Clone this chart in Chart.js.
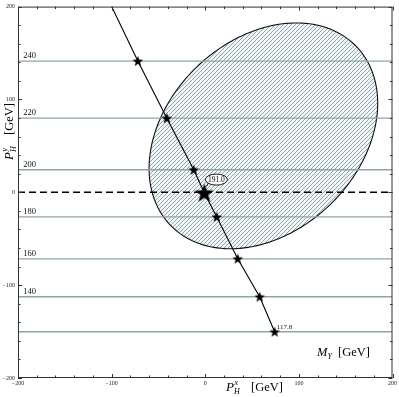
<!DOCTYPE html>
<html><head><meta charset="utf-8">
<script src="https://cdn.jsdelivr.net/npm/chart.js@4/dist/chart.umd.min.js"></script>
<style>html,body{margin:0;padding:0;background:#fff}#wrap{width:399px;height:397px}</style>
</head><body><div id="wrap"><canvas id="c" width="399" height="397"></canvas></div>
<script>
// ---- data ----
const axisTicks = [-200, -100, 0, 100, 200];
const minorTicks = [-180, -160, -140, -120, -80, -60, -40, -20, 20, 40, 60, 80, 120, 140, 160, 180];
const massLabels = ['240', '220', '200', '180', '160', '140'];
const massLineY = [141.3, 79.8, 24.3, -26.5, -71.6, -112.5, -150.2];
const trajX = [-100, -72, -41, -12.3, -1, 12.3, 34.7, 58.1, 74.1];
const trajY = [200, 141.3, 79.8, 24.3, -0.5, -26.5, -71.6, -112.5, -150.2];
const trajMass = [null, 240, 220, 200, 191.0, 180, 160, 140, 117.8];
const bigStarIndex = 4;
const ellipseCenter = [62.1, 60.8];
const ellipseAxes = [138.3, 102.8];
const ellipseAngleDeg = 44.6;
const bubbleText = '191.0';
const bubbleAt = [11.9, 13.7];
const endText = '117.8';
const endTextAt = [76.5, -150.2];
const massLabelX = -194.5;

const SERIF = '"Liberation Serif", "DejaVu Serif", serif';
const fmt = v => (v < 0 ? '\u2212' + Math.abs(v) : String(v));

function makeStar(R, r) {
  const s = Math.ceil(2 * R + 2);
  const c = document.createElement('canvas');
  c.width = c.height = s;
  const g = c.getContext('2d');
  g.translate(s / 2, s / 2 + R * 0.08);
  g.beginPath();
  for (let k = 0; k < 10; k++) {
    const rad = k % 2 ? r : R;
    const a = -Math.PI / 2 + k * Math.PI / 5;
    g.lineTo(rad * Math.cos(a), rad * Math.sin(a));
  }
  g.closePath();
  g.fillStyle = '#000';
  g.fill();
  return c;
}
const smallStar = makeStar(5.6, 2.3);
const bigStar = makeStar(10, 4.1);

const datasets = [];
massLineY.forEach(yv => datasets.push({
  data: [{x: -200, y: yv}, {x: 200, y: yv}],
  showLine: true, borderColor: '#8fa4a8', borderWidth: 1.3, pointRadius: 0, order: 3
}));
datasets.push({
  data: [{x: -200, y: 0}, {x: 200, y: 0}],
  showLine: true, borderColor: '#000', borderWidth: 1.5, borderDash: [7, 4], pointRadius: 0, order: 2
});
datasets.push({
  data: trajX.map((x, i) => ({x: x, y: trajY[i]})),
  showLine: true, borderColor: '#000', borderWidth: 1.1, order: 1,
  pointRadius: c => (trajMass[c.dataIndex] === null ? 0 : 5),
  pointStyle: c => (c.dataIndex === bigStarIndex ? bigStar : smallStar)
});

const regionPlugin = {
  id: 'region',
  beforeDatasetsDraw(chart) {
    const {ctx, scales: {x, y}, chartArea: a} = chart;
    const c = document.createElement('canvas');
    c.width = c.height = 4;
    const g = c.getContext('2d');
    g.fillStyle = '#f1f5f6'; g.fillRect(0, 0, 4, 4);
    g.strokeStyle = '#8ea3a7'; g.lineWidth = 0.95;
    g.beginPath();
    g.moveTo(-1, 5); g.lineTo(5, -1);
    g.moveTo(-1, 1); g.lineTo(1, -1);
    g.moveTo(3, 5); g.lineTo(5, 3);
    g.stroke();
    const pat = ctx.createPattern(c, 'repeat');
    const th = ellipseAngleDeg * Math.PI / 180;
    ctx.save();
    ctx.beginPath();
    ctx.rect(a.left, a.top, a.right - a.left, a.bottom - a.top);
    ctx.clip();
    ctx.beginPath();
    for (let k = 0; k <= 360; k++) {
      const t = k * Math.PI / 180;
      const u = ellipseAxes[0] * Math.cos(t), v = ellipseAxes[1] * Math.sin(t);
      const dx = ellipseCenter[0] + u * Math.cos(th) - v * Math.sin(th);
      const dy = ellipseCenter[1] + u * Math.sin(th) + v * Math.cos(th);
      const px = x.getPixelForValue(dx), py = y.getPixelForValue(dy);
      if (k === 0) ctx.moveTo(px, py); else ctx.lineTo(px, py);
    }
    ctx.closePath();
    ctx.fillStyle = pat;
    ctx.fill();
    ctx.strokeStyle = '#111';
    ctx.lineWidth = 1.1;
    ctx.stroke();
    ctx.restore();
  },
  afterDatasetsDraw(chart) {
    const {ctx, scales: {x, y}, chartArea: a} = chart;
    ctx.save();
    // frame
    ctx.strokeStyle = '#333';
    ctx.lineWidth = 1;
    ctx.strokeRect(a.left + 0.5, a.top + 0.5, a.right - a.left - 1, a.bottom - a.top - 1);
    // inward ticks
    const tick = (v, len) => {
      const px = Math.round(x.getPixelForValue(v)) + 0.5;
      const py = Math.round(y.getPixelForValue(v)) + 0.5;
      ctx.beginPath();
      ctx.moveTo(px, a.bottom); ctx.lineTo(px, a.bottom - len);
      ctx.moveTo(px, a.top); ctx.lineTo(px, a.top + len);
      ctx.moveTo(a.left, py); ctx.lineTo(a.left + len, py);
      ctx.moveTo(a.right, py); ctx.lineTo(a.right - len, py);
      ctx.stroke();
    };
    axisTicks.forEach(v => tick(v, 4));
    minorTicks.forEach(v => tick(v, 2.5));
    // mass labels
    ctx.fillStyle = '#111';
    ctx.textBaseline = 'alphabetic';
    ctx.textAlign = 'left';
    ctx.font = '8.5px ' + SERIF;
    massLabels.forEach((t, i) => {
      ctx.fillText(t, x.getPixelForValue(massLabelX), y.getPixelForValue(massLineY[i]) - 3);
    });
    ctx.font = '7px ' + SERIF;
    ctx.fillText(endText, x.getPixelForValue(endTextAt[0]), y.getPixelForValue(endTextAt[1]) - 2.5);
    // bubble
    const bx = x.getPixelForValue(bubbleAt[0]), by = y.getPixelForValue(bubbleAt[1]);
    ctx.beginPath();
    ctx.ellipse(bx, by, 11, 5.5, 0, 0, Math.PI * 2);
    ctx.fillStyle = '#fff';
    ctx.fill();
    ctx.strokeStyle = '#000';
    ctx.lineWidth = 0.9;
    ctx.stroke();
    ctx.beginPath();
    ctx.moveTo(bx - 8, by + 3.4);
    ctx.lineTo(bx - 10, by + 7);
    ctx.stroke();
    ctx.fillStyle = '#000';
    ctx.font = '7.5px ' + SERIF;
    ctx.textAlign = 'center';
    ctx.textBaseline = 'middle';
    ctx.fillText(bubbleText, bx, by + 0.5);
    // titles
    ctx.textAlign = 'left';
    ctx.textBaseline = 'alphabetic';
    const P = (sup) => [
      {t: 'P', f: 'italic 13px ', dx: 0, dy: 0},
      {t: 'H', f: 'italic 8px ', dx: 8, dy: 3},
      {t: sup, f: 'italic 8px ', dx: 8.5, dy: -6},
      {t: '[GeV]', f: '12.5px ', dx: 25, dy: 0}
    ];
    const rich = (parts, x0, y0) => parts.forEach(p => {
      ctx.font = p.f + SERIF;
      ctx.fillText(p.t, x0 + p.dx, y0 + p.dy);
    });
    rich(P('x'), 226, 391);
    ctx.save();
    ctx.translate(13, 160);
    ctx.rotate(-Math.PI / 2);
    rich(P('y'), 0, 0);
    ctx.restore();
    rich([
      {t: 'M', f: 'italic 12.5px ', dx: 0, dy: 0},
      {t: 'Y', f: 'italic 8px ', dx: 10.5, dy: 3},
      {t: '[GeV]', f: '12.5px ', dx: 21, dy: 0}
    ], 317, 356);
    ctx.restore();
  }
};

const tickFont = {family: SERIF, size: 6};
new Chart(document.getElementById('c'), {
  type: 'scatter',
  data: {datasets: datasets},
  options: {
    responsive: false,
    devicePixelRatio: 1,
    animation: false,
    layout: {padding: {top: 3, right: 6, left: 0, bottom: 0}, autoPadding: false},
    plugins: {legend: {display: false}, tooltip: {enabled: false}},
    scales: {
      x: {
        type: 'linear', min: -200, max: 200,
        afterBuildTicks: s => { s.ticks = axisTicks.map(v => ({value: v})); },
        afterFit: s => { s.height = 19; },
        grid: {display: false, drawTicks: false}, border: {display: false},
        ticks: {font: tickFont, color: '#222', padding: 2, maxRotation: 0, autoSkip: false, callback: v => fmt(v)}
      },
      y: {
        type: 'linear', min: -200, max: 200,
        afterBuildTicks: s => { s.ticks = axisTicks.map(v => ({value: v})); },
        afterFit: s => { s.width = 18; },
        grid: {display: false, drawTicks: false}, border: {display: false},
        ticks: {font: tickFont, color: '#222', padding: 3, autoSkip: false, callback: v => fmt(v)}
      }
    }
  },
  plugins: [regionPlugin]
});
</script>
</body></html>
